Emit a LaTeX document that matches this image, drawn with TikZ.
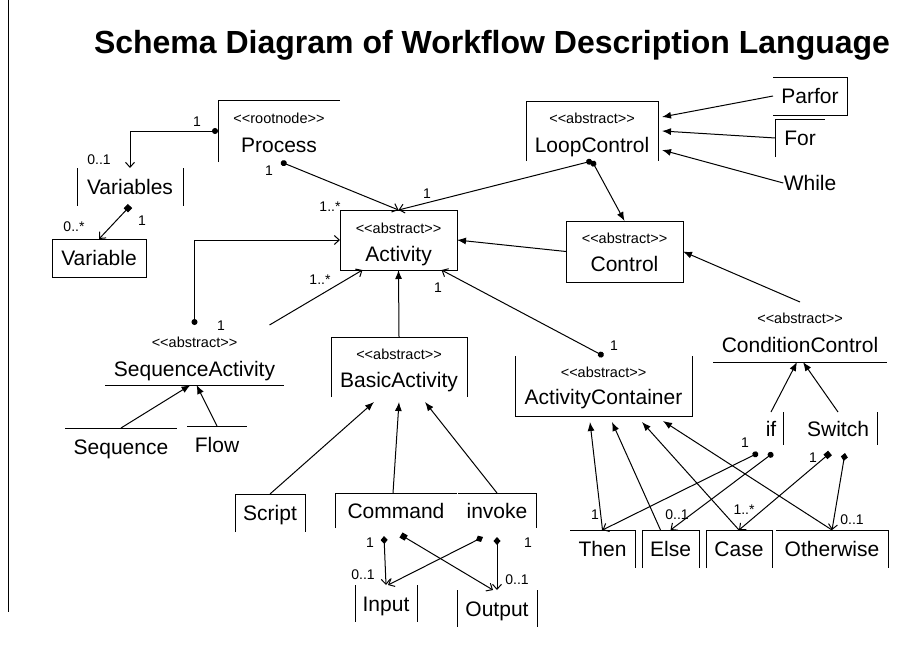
\documentclass[tikz,border=0pt]{standalone}
\usepackage{fontspec}
\setmainfont{Liberation Sans}
\newfontfamily\stfont{Liberation Sans}
\usetikzlibrary{arrows.meta,positioning}

\tikzset{
  frm/.style 2 args={inner sep=0pt, outer sep=0pt, minimum width=#1, minimum height=#2},
  cname/.style={inner sep=0pt, font=\fontsize{21}{24}\selectfont, text height=15pt, text depth=0pt},
  stereo/.style={inner sep=0pt, font=\stfont\fontsize{14.5}{16}\selectfont, text height=10pt, text depth=0pt},
  mult/.style={inner sep=0pt, font=\fontsize{14}{16}\selectfont},
  gen/.style={-{Latex[length=9pt,width=7pt]}},
  nav/.style={-{Straight Barb[length=5pt,width=9pt]}},
  has/.style={{Circle[length=6pt]}-{Straight Barb[length=5pt,width=9pt]}},
  hasgen/.style={{Circle[length=6pt]}-{Latex[length=9pt,width=7pt]}},
  own/.style={{Square[length=6pt]}-{Straight Barb[length=5pt,width=9pt]}},
  part/.style={{Diamond[length=8pt,width=7pt]}-{Straight Barb[length=5pt,width=9pt]}},
}

\begin{document}
\begin{tikzpicture}[x=1pt,y=-1pt,line width=1pt]
\useasboundingbox (0,0) rectangle (907,645);

\draw (8,0) -- (8,612);
\node[font=\bfseries\fontsize{32}{36}\selectfont, anchor=base] (title) at (492,53)
  {Schema Diagram of Workflow Description Language};

% classes
\node[frm={122pt}{62pt}] (proc) at (279,131) {};
\node[stereo] (proc-s) at ([yshift=13pt]proc.center) {<<rootnode>>};
\node[cname] (proc-n) at ([yshift=-14pt]proc.center) {Process};
\draw (proc.south west) |- (proc.north east);

\node[cname, frm={106pt}{38pt}] (vars) at (130,187) {Variables};
\draw (vars.north west) -- (vars.south west) (vars.north east) -- (vars.south east);
\node[cname, frm={94pt}{38pt}, draw] (var) at (99,258) {Variable};

\node[frm={117pt}{60pt}, draw] (act) at (398.5,240) {};
\node[stereo] (act-s) at ([yshift=12pt]act.center) {<<abstract>>};
\node[cname] (act-n) at ([yshift=-14pt]act.center) {Activity};

\node[frm={132pt}{60pt}] (loop) at (592,131) {};
\node[stereo] (loop-s) at ([yshift=13pt]loop.center) {<<abstract>>};
\node[cname] (loop-n) at ([yshift=-14pt]loop.center) {LoopControl};
\draw (loop.south west) |- (loop.north east) -- (loop.south east);

\node[frm={117pt}{61pt}, draw] (ctrl) at (624.5,251.5) {};
\node[stereo] (ctrl-s) at ([yshift=13.5pt]ctrl.center) {<<abstract>>};
\node[cname] (ctrl-n) at ([yshift=-12.5pt]ctrl.center) {Control};

\node[cname, frm={74pt}{38pt}] (parfor) at (810,96) {Parfor};
\draw (parfor.north west) -| (parfor.south east) -- (parfor.south west);
\node[cname, frm={49pt}{38pt}] (for) at (800,138) {For};
\draw (for.south west) |- (for.north east);
\node[cname] (while) at (810,183) {While};

\node[frm={179pt}{60pt}] (seqact) at (194.5,355) {};
\node[stereo] (seqact-s) at ([yshift=13pt]seqact.center) {<<abstract>>};
\node[cname] (seqact-n) at ([yshift=-14pt]seqact.center) {SequenceActivity};
\draw (seqact.south west) -- (seqact.south east);

\node[cname, frm={112pt}{38pt}] (seq) at (121,447) {Sequence};
\draw (seq.north west) -- (seq.north east);
\node[cname, frm={60pt}{38pt}] (flow) at (217,445) {Flow};
\draw (flow.north west) -- (flow.north east);

\node[frm={136pt}{60pt}] (basic) at (399,367) {};
\node[stereo] (basic-s) at ([yshift=13pt]basic.center) {<<abstract>>};
\node[cname] (basic-n) at ([yshift=-13pt]basic.center) {BasicActivity};
\draw (basic.south west) |- (basic.north east) -- (basic.south east);

\node[frm={177pt}{60pt}] (actc) at (603.5,386) {};
\node[stereo] (actc-s) at ([yshift=14pt]actc.center) {<<abstract>>};
\node[cname] (actc-n) at ([yshift=-11pt]actc.center) {ActivityContainer};
\draw (actc.north west) |- (actc.south east) -- (actc.north east);

\node[frm={174pt}{60pt}] (cond) at (800,332) {};
\node[stereo] (cond-s) at ([yshift=14pt]cond.center) {<<abstract>>};
\node[cname] (cond-n) at ([yshift=-13pt]cond.center) {ConditionControl};
\draw (cond.south west) -- (cond.south east);

\node[cname, frm={24pt}{33pt}] (if) at (771,428.5) {if};
\draw (if.north east) -- (if.south east);
\node[cname, frm={78pt}{33pt}] (switch) at (838,428.5) {Switch};
\draw (switch.north east) -- (switch.south east);

\node[cname, frm={70pt}{38pt}] (script) at (270,513) {Script};
\draw (script.south west) |- (script.north east) -- (script.south east);
\node[cname, frm={122pt}{35pt}] (cmd) at (396,510.5) {Command};
\draw (cmd.south west) |- (cmd.north east);
\node[cname, frm={78pt}{35pt}] (inv) at (497,510.5) {invoke};
\draw (inv.north west) -| (inv.south east);
\node[cname, frm={62pt}{37pt}] (inp) at (386,603.5) {Input};
\draw (inp.north west) -- (inp.south west) (inp.north east) -- (inp.south east);
\node[cname, frm={80pt}{37pt}] (outp) at (497,608.5) {Output};
\draw (outp.north west) -- (outp.south west) (outp.north east) -- (outp.south east);

\node[cname, frm={65pt}{38pt}] (then) at (602.5,549) {Then};
\draw (then.north west) -| (then.south east);
\node[cname, frm={57pt}{38pt}] (else) at (670.5,549) {Else};
\draw (else.south west) |- (else.north east) -- (else.south east);
\node[cname, frm={66pt}{38pt}] (case) at (739,549) {Case};
\draw (case.south west) |- (case.north east) -- (case.south east);
\node[cname, frm={112pt}{38pt}] (other) at (832,549) {Otherwise};
\draw (other.north west) -| (other.south east);

% connectors
\draw[has] (proc.west) -| (vars.north);
\draw[own] (vars.south) -- (var.north);
\draw[has] ([xshift=2pt]proc.south) -- (act.north);
\draw[has] (loop.south) -- (act.north);
\draw[hasgen] (loop.south) -- (ctrl.north);
\draw[gen] (ctrl.west) -- (act.east);
\draw[gen] (parfor.west) -- ([xshift=4pt,yshift=14pt]loop.east);
\draw[gen] (for.west) -- ([xshift=4pt]loop.east);
\draw[gen] (while.west) -- ([xshift=4pt,yshift=-19pt]loop.east);
\draw[has] (seqact.north) |- (act.west);
\draw[nav] ([xshift=75pt]seqact.north) -- ([xshift=-36pt]act.south);
\draw[gen] (seq.north) -- ([xshift=-4pt]seqact.south);
\draw[gen] (flow.north) -- ([xshift=2pt]seqact.south);
\draw[gen] (basic.north) -- (act.south);
\draw[has] (actc.north) -- ([xshift=43pt]act.south);
\draw[gen] (cond.north) -- (ctrl.east);
\draw[gen] (if.north) -- ([xshift=-3pt]cond.south);
\draw[gen] (switch.north) -- ([xshift=3pt]cond.south);
\draw[gen] (script.north) -- ([xshift=-25pt,yshift=-5pt]basic.south);
\draw[gen] ([xshift=-3pt]cmd.north) -- ([yshift=-5pt]basic.south);
\draw[gen] (inv.north) -- ([xshift=26pt,yshift=-5pt]basic.south);
\draw[part] ([xshift=-12pt,yshift=-8pt]cmd.south) -- (inp.north);
\draw[own] ([xshift=5pt,yshift=-7pt]cmd.south) -- ([xshift=-4pt]outp.north);
\draw[part] ([xshift=-14pt,yshift=-9pt]inv.south) -- ([xshift=2pt]inp.north);
\draw[part] ([yshift=-9pt]inv.south) -- (outp.north);
\draw[gen] (then.north) -- ([xshift=-13.5pt,yshift=-6pt]actc.south);
\draw[gen] ([xshift=-10pt]else.north) -- ([xshift=8.5pt,yshift=-6pt]actc.south);
\draw[gen] (case.north) -- ([xshift=38.5pt,yshift=-6pt]actc.south);
\draw[gen] (other.north) -- ([xshift=59.5pt,yshift=-5pt]actc.south);
\draw[has] ([xshift=-13pt,yshift=-8pt]if.south) -- (then.north);
\draw[has] ([xshift=2pt,yshift=-8pt]if.south) -- (else.north);
\draw[own] ([xshift=-8pt,yshift=-8pt]switch.south) -- (case.north);
\draw[part] ([xshift=7pt,yshift=-8pt]switch.south) -- (other.north);

% multiplicities
\node[mult] (m1) at (197,122) {1};
\node[mult] (m2) at (99,160) {0..1};
\node[mult] (m3) at (142,221) {1};
\node[mult] (m4) at (74,227) {0..*};
\node[mult] (m5) at (269,171) {1};
\node[mult] (m6) at (330,207) {1..*};
\node[mult] (m7) at (427,194) {1};
\node[mult] (m8) at (221,326) {1};
\node[mult] (m9) at (320,280) {1..*};
\node[mult] (m10) at (438,288) {1};
\node[mult] (m11) at (614,346) {1};
\node[mult] (m12) at (370,543) {1};
\node[mult] (m13) at (363,575) {0..1};
\node[mult] (m14) at (528,543) {1};
\node[mult] (m15) at (517,580) {0..1};
\node[mult] (m16) at (745,443) {1};
\node[mult] (m17) at (813,458) {1};
\node[mult] (m18) at (595,515) {1};
\node[mult] (m19) at (677,515) {0..1};
\node[mult] (m20) at (744,510) {1..*};
\node[mult] (m21) at (852,520) {0..1};
\end{tikzpicture}
\end{document}
